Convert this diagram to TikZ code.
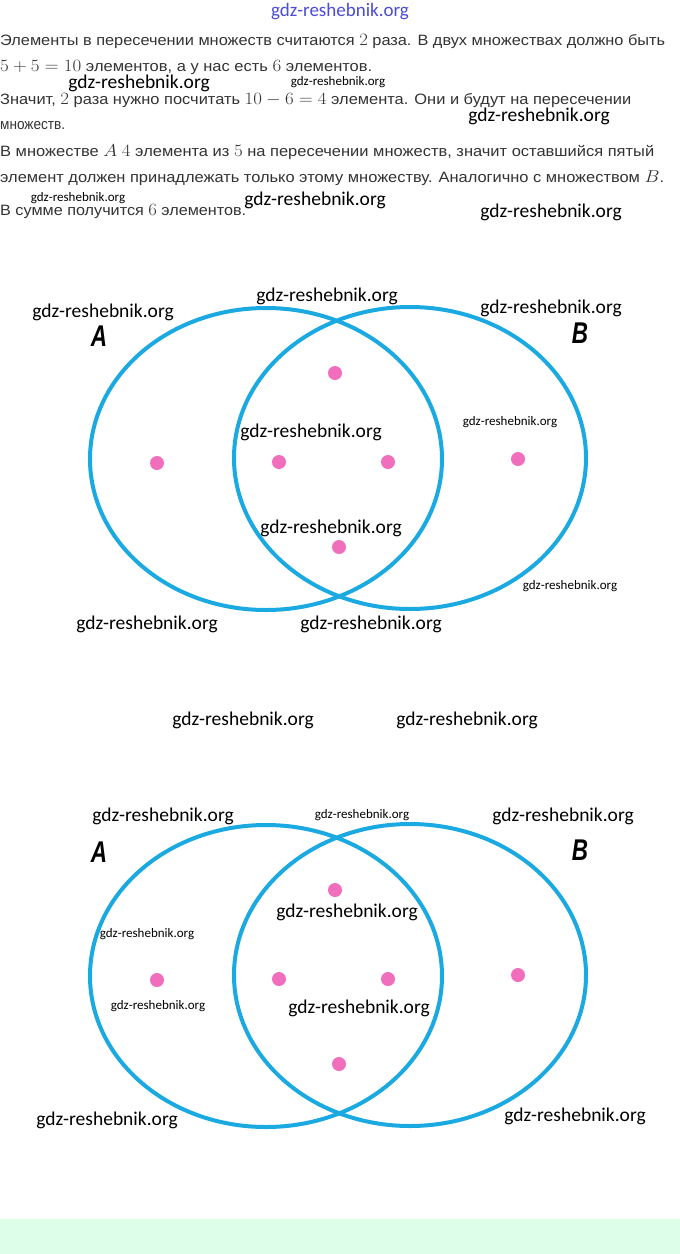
\documentclass[tikz,border=0pt]{standalone}
\usepackage{fontspec}
\usepackage{graphicx}
\setmainfont{Liberation Sans}
\newfontfamily\wmfont{Carlito}
\usetikzlibrary{shapes.geometric}
\definecolor{setblue}{HTML}{1BA9E1}
\definecolor{dotpink}{HTML}{F06EBC}
\definecolor{txtgray}{HTML}{333333}
\definecolor{hdrblue}{HTML}{4B4BD8}
\definecolor{bandgreen}{HTML}{DDFFEA}
\tikzset{
  txt/.style={anchor=base west, inner sep=0pt, text=txtgray, font=\fontsize{15}{18}\selectfont},
  wmL/.style={inner sep=0pt, text=black, font=\wmfont\fontsize{19.5}{22}\selectfont},
  wmS/.style={inner sep=0pt, text=black, font=\wmfont\fontsize{13}{15}\selectfont},
  setell/.style={draw=setblue, line width=4pt, ellipse, inner sep=0pt, minimum width=352pt, minimum height=302pt},
  elem/.style={circle, fill=dotpink, inner sep=0pt, minimum size=14pt},
  setlbl/.style={inner sep=0pt, font=\fontsize{30}{32}\selectfont\bfseries\itshape}
}
\newcommand{\fitw}[2]{\resizebox{#1}{\height}{#2}}
\newcommand{\mth}[1]{{\fontsize{17.5}{18}\selectfont$#1$}}
\begin{document}
\begin{tikzpicture}[x=1pt,y=-1pt]
\useasboundingbox (0,0) rectangle (680,1254);
\fill[white] (0,0) rectangle (680,1254);
\fill[bandgreen] (0,1219) rectangle (680,1254);

% header
\node[inner sep=0pt, text=hdrblue, font=\wmfont\fontsize{19}{22}\selectfont] (hdr) at (340,12) {gdz-reshebnik.org};

% text lines
\node[txt] (l1) at (0,45) {\fitw{665pt}{Элементы в пересечении множеств считаются \mth{2} раза. В двух множествах должно быть}};
\node[txt] (l2) at (0,71) {\fitw{372pt}{\mth{5+5=10} элементов, а у нас есть \mth{6} элементов.}};
\node[txt] (l3) at (0,104) {\fitw{631pt}{Значит, \mth{2} раза нужно посчитать \mth{10-6=4} элемента. Они и будут на пересечении}};
\node[txt] (l4) at (0,129) {\fitw{65pt}{множеств.}};
\node[txt] (l5) at (0,156) {\fitw{654pt}{В множестве \mth{A} \mth{4} элемента из \mth{5} на пересечении множеств, значит оставшийся пятый}};
\node[txt] (l6) at (0,182) {\fitw{664pt}{элемент должен принадлежать только этому множеству. Аналогично с множеством \mth{B}.}};
\node[txt] (l7) at (0,215) {\fitw{246pt}{В сумме получится \mth{6} элементов.}};

% diagram 1
\node[setell] (A1) at (266,459) {};
\node[setell] (B1) at (410,458) {};
\node[setlbl] (la1) at (99,336) {\scalebox{0.75}[1]{A}};
\node[setlbl] (lb1) at (580,333) {\scalebox{0.75}[1]{B}};
\node[elem] (d11) at (335,373) {};
\node[elem] (d12) at (157,463) {};
\node[elem] (d13) at (279,462) {};
\node[elem] (d14) at (388,462) {};
\node[elem] (d15) at (518,459) {};
\node[elem] (d16) at (339,547) {};

% diagram 2
\node[setell] (A2) at (266,976) {};
\node[setell] (B2) at (410,975) {};
\node[setlbl] (la2) at (99,852) {\scalebox{0.75}[1]{A}};
\node[setlbl] (lb2) at (580,850) {\scalebox{0.75}[1]{B}};
\node[elem] (d21) at (335,890) {};
\node[elem] (d22) at (157,980) {};
\node[elem] (d23) at (279,979) {};
\node[elem] (d24) at (388,979) {};
\node[elem] (d25) at (518,975) {};
\node[elem] (d26) at (339,1064) {};

% watermarks
\node[wmL] (w1) at (139,83) {gdz-reshebnik.org};
\node[wmS] (w2) at (338,82) {gdz-reshebnik.org};
\node[wmL] (w3) at (539,116) {gdz-reshebnik.org};
\node[wmS] (w4) at (78,198) {gdz-reshebnik.org};
\node[wmL] (w5) at (315,200) {gdz-reshebnik.org};
\node[wmL] (w6) at (551,212) {gdz-reshebnik.org};
\node[wmL] (w7) at (327,296) {gdz-reshebnik.org};
\node[wmL] (w8) at (103,312) {gdz-reshebnik.org};
\node[wmL] (w9) at (551,308) {gdz-reshebnik.org};
\node[wmL] (w10) at (311,432) {gdz-reshebnik.org};
\node[wmS] (w11) at (510,422) {gdz-reshebnik.org};
\node[wmL] (w12) at (331,528) {gdz-reshebnik.org};
\node[wmS] (w13) at (570,586) {gdz-reshebnik.org};
\node[wmL] (w14) at (147,624) {gdz-reshebnik.org};
\node[wmL] (w15) at (371,624) {gdz-reshebnik.org};
\node[wmL] (w16) at (243,720) {gdz-reshebnik.org};
\node[wmL] (w17) at (467,720) {gdz-reshebnik.org};
\node[wmL] (w18) at (163,816) {gdz-reshebnik.org};
\node[wmS] (w19) at (362,815) {gdz-reshebnik.org};
\node[wmL] (w20) at (563,816) {gdz-reshebnik.org};
\node[wmL] (w21) at (347,912) {gdz-reshebnik.org};
\node[wmS] (w22) at (147,934) {gdz-reshebnik.org};
\node[wmS] (w23) at (158,1006) {gdz-reshebnik.org};
\node[wmL] (w24) at (359,1008) {gdz-reshebnik.org};
\node[wmL] (w25) at (107,1120) {gdz-reshebnik.org};
\node[wmL] (w26) at (575,1116) {gdz-reshebnik.org};
\end{tikzpicture}
\end{document}
